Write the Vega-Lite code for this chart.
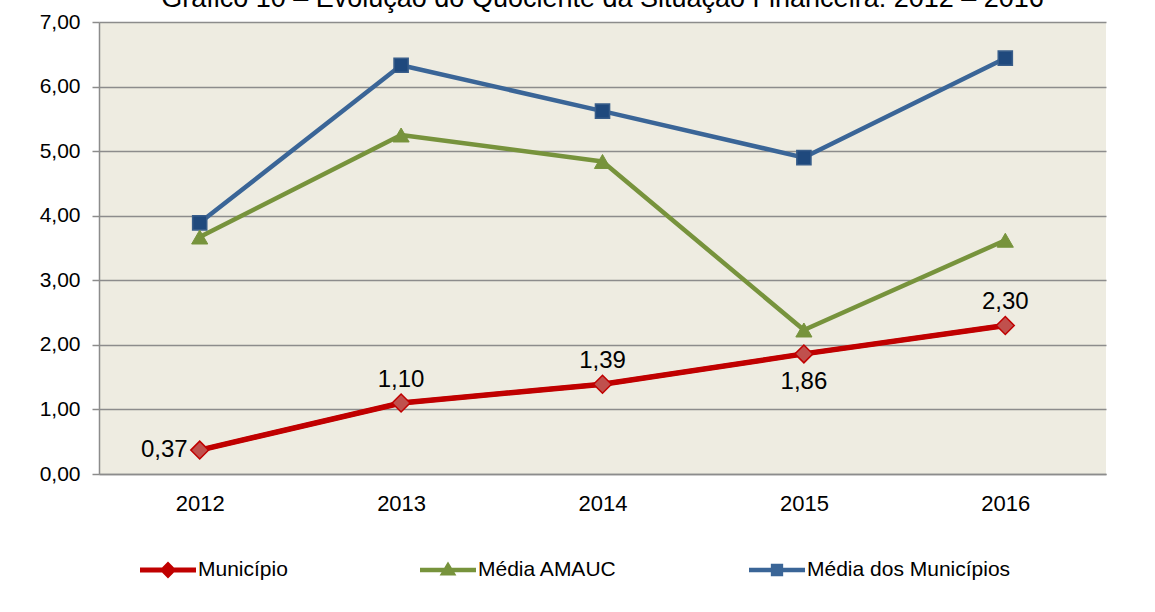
{
  "$schema": "https://vega.github.io/schema/vega-lite/v6.json",
  "autosize": {"type": "none"},
  "width": 1007,
  "height": 452,
  "padding": {"left": 99, "top": 22, "right": 49, "bottom": 138},
  "background": "white",
  "title": {
    "text": "Gráfico 10 – Evolução do Quociente da Situação Financeira: 2012 – 2016",
    "anchor": "middle",
    "frame": "group",
    "fontSize": 27,
    "fontWeight": "normal",
    "baseline": "alphabetic",
    "offset": -23,
    "color": "black",
    "font": "Liberation Sans"
  },
  "data": {
    "values": [
      {"ano": "2012", "serie": "Média dos Municípios", "valor": 3.89},
      {"ano": "2013", "serie": "Média dos Municípios", "valor": 6.33},
      {"ano": "2014", "serie": "Média dos Municípios", "valor": 5.62},
      {"ano": "2015", "serie": "Média dos Municípios", "valor": 4.90},
      {"ano": "2016", "serie": "Média dos Municípios", "valor": 6.44},
      {"ano": "2012", "serie": "Média AMAUC", "valor": 3.67},
      {"ano": "2013", "serie": "Média AMAUC", "valor": 5.25},
      {"ano": "2014", "serie": "Média AMAUC", "valor": 4.84},
      {"ano": "2015", "serie": "Média AMAUC", "valor": 2.23},
      {"ano": "2016", "serie": "Média AMAUC", "valor": 3.62},
      {"ano": "2012", "serie": "Município", "valor": 0.37},
      {"ano": "2013", "serie": "Município", "valor": 1.10},
      {"ano": "2014", "serie": "Município", "valor": 1.39},
      {"ano": "2015", "serie": "Município", "valor": 1.86},
      {"ano": "2016", "serie": "Município", "valor": 2.30}
    ]
  },
  "encoding": {
    "x": {
      "field": "ano", "type": "ordinal",
      "scale": {"type": "point", "padding": 0.5},
      "axis": {"title": null, "labelAngle": 0, "ticks": false, "labelPadding": 19, "labelFontSize": 22, "grid": false}
    },
    "y": {
      "field": "valor", "type": "quantitative",
      "scale": {"domain": [0, 7], "nice": false, "zero": true},
      "axis": {"title": null, "values": [0, 1, 2, 3, 4, 5, 6, 7], "format": ".2f", "labelFontSize": 21, "labelPadding": 12, "tickSize": 7, "grid": true}
    }
  },
  "layer": [
    {
      "mark": {"type": "line", "strokeJoin": "round", "strokeCap": "round", "strokeWidth": 4.5},
      "encoding": {
        "color": {
          "field": "serie", "type": "nominal",
          "scale": {"domain": ["Município", "Média AMAUC", "Média dos Municípios"], "range": ["#C00000", "#77933C", "#3A6597"]},
          "legend": {
            "orient": "none",
            "legendX": 41,
            "legendY": 520,
            "direction": "horizontal",
            "title": null,
            "symbolSize": 3136,
            "labelFontSize": 21,
            "labelColor": "black",
            "labelOffset": 2,
            "labelLimit": 0,
            "columnPadding": 132,
            "encode": {
              "symbols": {
                "update": {
                  "shape": {"signal": "datum.value === 'Município' ? 'M-1,-0.09L1,-0.09L1,0.09L-1,0.09Z M0,-0.3L0.3,0L0,0.3L-0.3,0Z' : datum.value === 'Média AMAUC' ? 'M-1,-0.08L1,-0.08L1,0.08L-1,0.08Z M0,-0.3L0.3,0.2L-0.3,0.2Z' : 'M-1,-0.08L1,-0.08L1,0.08L-1,0.08Z M-0.22,-0.22L0.22,-0.22L0.22,0.22L-0.22,0.22Z'"},
                  "fill": {"signal": "datum.value === 'Município' ? '#C00000' : datum.value === 'Média AMAUC' ? '#77933C' : '#3A6597'"},
                  "size": {"value": 3136},
                  "stroke": {"value": "transparent"},
                  "strokeWidth": {"value": 0},
                  "opacity": {"value": 1}
                }
              }
            }
          }
        }
      }
    },
    {
      "transform": [{"filter": "datum.serie === 'Município'"}],
      "mark": {"type": "line", "strokeJoin": "round", "strokeCap": "round", "strokeWidth": 5.5, "color": "#C00000"},
      "encoding": {}
    },
    {
      "transform": [{"filter": "datum.serie === 'Média dos Municípios'"}],
      "mark": {"type": "point", "shape": "square", "filled": true, "opacity": 1, "size": 200, "fill": "#1F497D", "stroke": "#385D8A", "strokeWidth": 1.5},
      "encoding": {}
    },
    {
      "transform": [{"filter": "datum.serie === 'Média AMAUC'"}],
      "mark": {"type": "point", "shape": "triangle-up", "filled": true, "opacity": 1, "size": 260, "fill": "#77933C", "stroke": "#77933C", "strokeWidth": 1},
      "encoding": {}
    },
    {
      "transform": [{"filter": "datum.serie === 'Município'"}],
      "mark": {"type": "point", "shape": "diamond", "filled": true, "opacity": 1, "size": 320, "fill": "#C0504D", "stroke": "#C00000", "strokeWidth": 1.5},
      "encoding": {}
    },
    {
      "transform": [{"filter": "datum.serie === 'Município' && datum.ano === '2012'"}],
      "mark": {"type": "text", "align": "right", "baseline": "middle", "dx": -12, "fontSize": 24, "color": "black"},
      "encoding": {"text": {"field": "valor", "type": "quantitative", "format": ".2f"}}
    },
    {
      "transform": [{"filter": "datum.serie === 'Município' && (datum.ano === '2013' || datum.ano === '2014' || datum.ano === '2016')"}],
      "mark": {"type": "text", "align": "center", "baseline": "alphabetic", "dy": -16, "fontSize": 24, "color": "black"},
      "encoding": {"text": {"field": "valor", "type": "quantitative", "format": ".2f"}}
    },
    {
      "transform": [{"filter": "datum.serie === 'Município' && datum.ano === '2015'"}],
      "mark": {"type": "text", "align": "center", "baseline": "top", "dy": 16, "fontSize": 24, "color": "black"},
      "encoding": {"text": {"field": "valor", "type": "quantitative", "format": ".2f"}}
    }
  ],
  "config": {
    "locale": {"number": {"decimal": ",", "thousands": ".", "grouping": [3], "currency": ["R$ ", ""]}},
    "font": "Liberation Sans",
    "view": {"fill": "#EEECE1", "stroke": null},
    "axis": {
      "labelColor": "black",
      "labelFont": "Liberation Sans",
      "domainColor": "#8C8C8C",
      "domainWidth": 1.5,
      "tickColor": "#8C8C8C",
      "tickWidth": 1.5,
      "gridColor": "#8C8C8C",
      "gridWidth": 1.5,
      "gridOpacity": 1
    },
    "legend": {"labelFont": "Liberation Sans"}
  }
}
